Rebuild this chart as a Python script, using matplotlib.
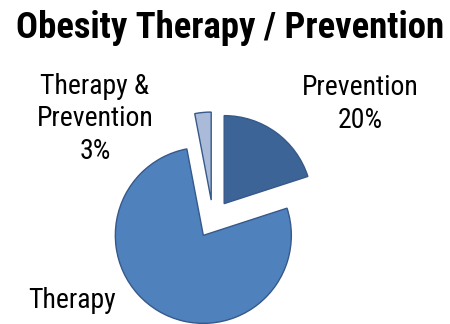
import matplotlib.pyplot as plt

# données
labels = ["Prevention", "Therapy", "Therapy &\nPrevention"]
shares = [20, 77, 3]
colors = ["#3C6496", "#4F81BD", "#AABBDA"]

plt.rcParams['font.family'] = ['Roboto Condensed', 'PT Sans Narrow', 'Liberation Sans', 'DejaVu Sans']

fig = plt.figure(figsize=(4.5, 3.24), dpi=100)
ax = fig.add_axes([0, 0, 1, 1])

ax.pie(shares, colors=colors, startangle=90, counterclock=False,
       radius=88, center=(213, 105), explode=[19] * len(shares),
       wedgeprops=dict(edgecolor="#36598A", linewidth=1.0), frame=True)
ax.set_xlim(0, 450)
ax.set_ylim(0, 324)
ax.set_aspect("equal")
ax.axis("off")

# étiquettes
ax.text(360, 220, "Prevention\n20%", ha="center", va="center", fontsize=20, linespacing=1.28)
ax.text(95, 205, "Therapy &\nPrevention\n3%", ha="center", va="center", fontsize=20, linespacing=1.28)
ax.text(72, 23, "Therapy", ha="center", va="center", fontsize=20)

ax.text(230, 296, "Obesity Therapy / Prevention", ha="center", va="center",
        fontsize=26.5, fontweight="bold")

plt.savefig("out.png", dpi=100)
